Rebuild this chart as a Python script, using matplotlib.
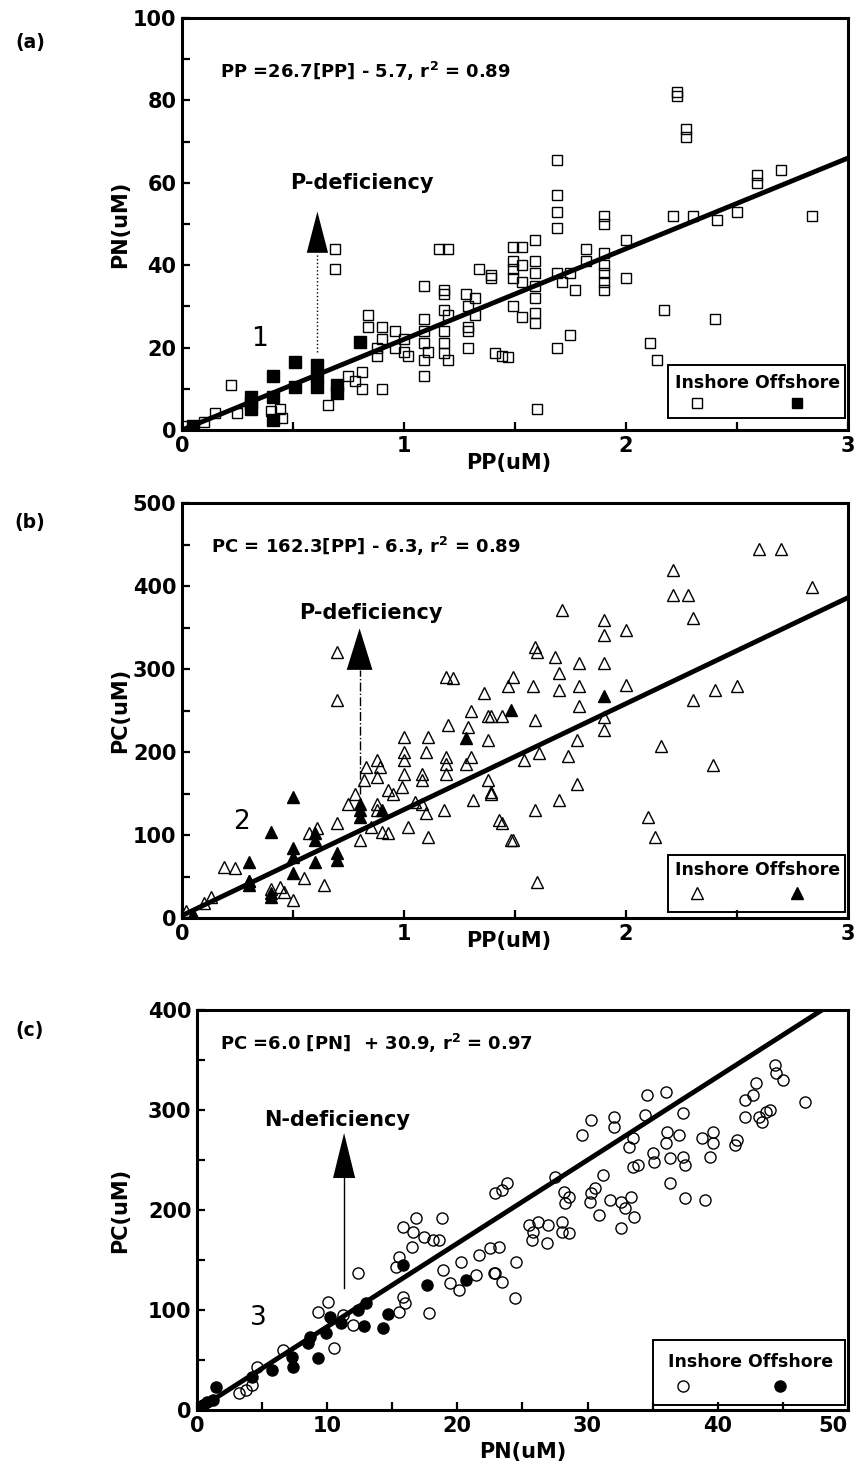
import matplotlib
matplotlib.use("Agg")
import matplotlib.pyplot as plt
from matplotlib.patches import Rectangle
from matplotlib.ticker import MultipleLocator

# ---- panel (a): PN vs PP ----
a_in_pp = [0.02, 0.1, 0.15, 0.22, 0.25, 0.4, 0.44, 0.45, 0.66, 0.69, 0.69, 0.75, 0.78, 0.81, 0.81, 0.9,
           0.84, 0.84, 0.9, 0.96, 1.0, 1.0, 1.02, 0.9, 0.88, 0.96, 0.88,
           1.09, 1.09, 1.09, 1.09, 1.09, 1.11, 1.09, 1.16, 1.2, 1.18, 1.18, 1.18, 1.2, 1.18, 1.18, 1.18, 1.2,
           1.28, 1.32, 1.29, 1.32, 1.29, 1.29, 1.29, 1.34, 1.39, 1.39, 1.41, 1.44, 1.47,
           1.49, 1.49, 1.49, 1.49, 1.53, 1.53, 1.49, 1.53, 1.53, 1.59, 1.59, 1.59, 1.59, 1.59, 1.59, 1.59,
           1.6, 1.69, 1.69, 1.69, 1.69, 1.69, 1.71, 1.77, 1.75, 1.82, 1.82, 1.75, 1.69,
           1.9, 1.9, 1.9, 1.9, 1.9, 1.9, 1.9, 2.0, 2.0, 2.17, 2.11, 2.14,
           2.21, 2.23, 2.23, 2.27, 2.27, 2.3, 2.41, 2.5, 2.59, 2.59, 2.7, 2.84, 2.4]
a_in_pn = [1, 2, 4, 11, 4, 4.5, 5, 3, 6, 44, 39, 13, 12, 14, 10, 10,
           28, 25, 25, 24, 22, 19, 18, 22, 20, 20, 18,
           35, 27, 24, 21, 17, 19, 13, 44, 44, 34, 33, 29, 28, 24, 21, 18.7, 17,
           33, 32, 30, 28, 25, 24, 20, 39, 37.6, 36.8, 18.7, 18, 17.8,
           44.5, 41, 37, 30, 44.5, 40, 39, 36, 27.5, 46, 41, 38, 35, 32, 28.5, 26,
           5, 65.5, 57, 53, 49, 38, 36, 34, 38, 44, 41, 23, 20,
           52, 50, 43, 40, 38, 36, 34, 46, 37, 29, 21, 17,
           52, 82, 81, 73, 71, 52, 51, 53, 62, 60, 63, 52, 27]
a_off_pp = [0.31, 0.31, 0.31, 0.41, 0.41, 0.41, 0.51, 0.51, 0.61, 0.61, 0.61, 0.7, 0.7, 0.8, 0.05]
a_off_pn = [8, 5, 6.5, 13, 8, 2.4, 16.6, 10.5, 15.8, 10.5, 13, 11, 9, 21.4, 1]
a_fit_x = [0, 3]
a_fit_y = [0, 66]

# ---- panel (b): PC vs PP ----
b_in_pp = [0.02, 0.1, 0.13, 0.19, 0.24, 0.3, 0.4, 0.44, 0.46, 0.5, 0.55, 0.64, 0.57, 0.61, 0.7, 0.7, 0.7,
           0.75, 0.78, 0.82, 0.83, 0.89, 0.8, 0.9, 0.93, 1.02, 1.11, 0.88, 0.88, 0.93, 0.99, 1.0, 1.08,
           1.08, 1.19, 1.19, 1.19, 1.0, 1.11, 1.2, 1.19, 1.22, 1.39, 1.36, 1.47, 1.3, 1.28, 1.31, 1.39,
           1.18, 1.08, 1.1, 1.43, 1.48, 2.6, 2.7, 2.84, 2.21, 2.21, 2.28, 2.3, 1.71, 1.9, 1.9, 1.9, 2.0,
           1.59, 1.6, 1.68, 1.79, 1.79, 1.79, 1.7, 1.7, 1.58, 1.44, 1.38, 2.0, 2.3, 2.4, 2.5, 1.59, 1.9,
           1.9, 1.78, 1.74, 1.78, 1.7, 1.59, 2.16, 2.39, 2.1, 2.13, 1.44, 1.49, 1.54, 1.61, 1.39, 1.38,
           1.38, 1.6, 1.29, 1.3, 1.1, 0.95, 1.05, 0.85, 0.88, 0.88, 1.0, 1.0, 1.49]
b_in_pc = [8, 18, 25, 62, 60, 45, 35, 38, 32, 22, 48, 40, 102, 108, 114, 321, 263,
           138, 150, 166, 182, 182, 94, 104, 102, 110, 98, 130, 138, 154, 158, 174, 174,
           166, 186, 174, 194, 218, 218, 232, 291, 289, 243, 271, 279, 194, 186, 142, 152,
           130, 138, 126, 118, 94, 445, 445, 399, 419, 389, 389, 361, 371, 359, 341, 307, 347,
           327, 320, 315, 307, 279, 255, 295, 275, 279, 243, 243, 281, 263, 275, 279, 239, 242,
           227, 215, 195, 162, 142, 130, 207, 184, 122, 98, 114, 94, 190, 199, 150, 166,
           215, 43, 230, 250, 200, 150, 140, 110, 170, 190, 190, 200, 291]
b_off_pp = [0.3, 0.3, 0.3, 0.4, 0.4, 0.4, 0.5, 0.5, 0.5, 0.5, 0.6, 0.6, 0.6, 0.7, 0.7,
            0.8, 0.8, 0.8, 0.9, 1.28, 1.48, 1.9, 0.05]
b_off_pc = [68, 40, 45, 104, 25, 30, 146, 84, 74, 54, 102, 94, 68, 78, 70,
            130, 122, 138, 130, 217, 251, 267, 5]
b_fit_x = [0, 3]
b_fit_y = [3, 386]

# ---- panel (c): PC vs PN ----
c_in_pn = [3.2, 3.8, 4.2, 4.6, 6.6, 10.5, 9.3, 10.1, 12.4, 11.2, 12.0, 15.3, 15.5, 15.8, 16.8, 16.6,
           17.4, 16.5, 18.1, 18.8, 18.6, 17.8, 15.5, 16.0, 15.8, 18.9, 19.4, 20.1, 20.3, 21.7, 22.5,
           21.4, 22.8, 22.9, 23.4, 23.8, 27.5, 28.2, 28.6, 28.3, 30.3, 30.6, 30.2, 30.9, 31.7, 32.6,
           33.3, 33.6, 32.6, 32.9, 31.2, 25.5, 26.2, 27.0, 28.0, 28.6, 28.0, 26.9, 25.7, 25.8, 24.4,
           24.5, 22.9, 23.4, 23.2, 29.6, 30.3, 32.0, 32.0, 34.6, 36.0, 37.3, 34.4, 33.2, 33.5, 33.9,
           33.5, 35.0, 35.1, 36.1, 36.0, 36.3, 37.0, 37.3, 37.5, 36.3, 37.5, 39.0, 38.8, 39.6, 39.6,
           39.4, 41.3, 41.5, 42.1, 42.7, 42.9, 42.1, 43.2, 43.7, 44.0, 43.4, 44.4, 44.5, 45.0, 46.7]
c_in_pc = [17, 20, 25, 43, 60, 62, 98, 108, 137, 95, 85, 143, 153, 183, 192, 178,
           173, 163, 170, 192, 170, 97, 98, 107, 113, 140, 127, 120, 148, 155, 162,
           135, 137, 217, 220, 227, 233, 218, 213, 207, 217, 222, 208, 195, 210, 208,
           213, 193, 182, 202, 235, 185, 188, 185, 188, 177, 178, 167, 170, 178, 112,
           148, 137, 128, 163, 275, 290, 293, 283, 315, 318, 297, 295, 263, 272, 245,
           243, 257, 248, 278, 267, 252, 275, 253, 245, 227, 212, 210, 272, 278, 267,
           253, 265, 270, 310, 315, 327, 293, 293, 298, 300, 288, 345, 337, 330, 308]
c_off_pn = [0.5, 0.8, 1.2, 1.5, 4.2, 5.8, 7.4, 7.3, 8.5, 8.7, 9.3, 9.9, 10.2, 11.1, 12.4, 13.0,
            12.8, 14.3, 14.7, 15.8, 17.7, 20.7]
c_off_pc = [5, 8, 10, 23, 33, 40, 43, 53, 67, 73, 52, 77, 93, 87, 100, 107,
            84, 82, 96, 145, 125, 130]
c_fit_x = [0, 48]
c_fit_y = [0, 400]
c_xticks = [0, 10, 20, 30, 40, 50]
c_xticklabels = ["0", "10", "20", "30", "40", "50"]

plt.rcParams['font.family'] = ['DejaVu Sans']
plt.rcParams['font.weight'] = 'bold'
plt.rcParams['axes.labelweight'] = 'bold'

fig = plt.figure(figsize=(8.56, 14.76), dpi=100)
ax_a = fig.add_axes([0.2126, 0.7087, 0.778, 0.2791])
ax_b = fig.add_axes([0.2126, 0.3780, 0.778, 0.2812])
ax_c = fig.add_axes([0.2301, 0.0447, 0.7605, 0.2710])


def style_axis(ax, xmax, ymax, xmaj, xmin, ymaj, ymin):
    ax.set_xlim(0, xmax)
    ax.set_ylim(0, ymax)
    ax.xaxis.set_major_locator(MultipleLocator(xmaj))
    ax.xaxis.set_minor_locator(MultipleLocator(xmin))
    ax.yaxis.set_major_locator(MultipleLocator(ymaj))
    ax.yaxis.set_minor_locator(MultipleLocator(ymin))
    ax.tick_params(which='both', direction='in', width=1.6, length=6, labelsize=15, pad=4)
    for s in ax.spines.values():
        s.set_linewidth(2.2)


def legend_box(ax, x0, y0, y1, ty, my, xi, xo, marker, msize):
    ax.add_patch(Rectangle((x0, y0), 1 - x0 - 0.004, y1 - y0, transform=ax.transAxes,
                           fill=False, lw=1.4, zorder=5))
    ax.text((x0 + 1) / 2, ty, "Inshore Offshore", transform=ax.transAxes, ha='center',
            va='center', fontsize=12.5, zorder=6)
    ax.plot([xi], [my], marker=marker, ms=msize, mfc='white', mec='black', mew=1.0,
            transform=ax.transAxes, zorder=6)
    ax.plot([xo], [my], marker=marker, ms=msize, mfc='black', mec='black',
            transform=ax.transAxes, zorder=6)


def arrow(ax, x, y_low, base, tip, dx, ls, text, tx, ty):
    ax.plot([x, x], [y_low, base], color='black', lw=1.0, ls=ls)
    ax.fill([x - dx, x + dx, x], [base, base, tip], color='black', lw=0)
    ax.text(tx, ty, text, ha='center', va='center', fontsize=15)


# (a)
ax = ax_a
ax.plot(a_in_pp, a_in_pn, 's', ms=7, mfc='none', mec='black', mew=1.0)
ax.plot(a_off_pp, a_off_pn, 's', ms=8, mfc='black', mec='black')
ax.plot(a_fit_x, a_fit_y, color='black', lw=3.5)
style_axis(ax, 3, 100, 1, 0.5, 20, 10)
ax.set_xlabel("PP(uM)", fontsize=15)
ax.set_ylabel("PN(uM)", fontsize=15)
ax.xaxis.set_label_coords(0.49, -0.055)
ax.yaxis.set_label_coords(-0.078, 0.5)
ax.text(0.17, 87, "PP =26.7[PP] - 5.7, r$^{\\mathbf{2}}$ = 0.89", fontsize=13, va='center')
arrow(ax, 0.61, 19, 43, 53, 0.048, ':', "P-deficiency", 0.81, 60)
ax.text(0.35, 22, "1", fontsize=19, fontweight='normal', ha='center', va='center')
legend_box(ax, 0.73, 0.03, 0.158, 0.114, 0.066, 0.773, 0.923, 's', 7)

# (b)
ax = ax_b
ax.plot(b_in_pp, b_in_pc, '^', ms=8, mfc='none', mec='black', mew=1.0)
ax.plot(b_off_pp, b_off_pc, '^', ms=8, mfc='black', mec='black')
ax.plot(b_fit_x, b_fit_y, color='black', lw=3.5)
style_axis(ax, 3, 500, 1, 0.5, 100, 50)
ax.set_xlabel("PP(uM)", fontsize=15)
ax.set_ylabel("PC(uM)", fontsize=15)
ax.xaxis.set_label_coords(0.49, -0.03)
ax.yaxis.set_label_coords(-0.078, 0.5)
ax.text(0.13, 448, "PC = 162.3[PP] - 6.3, r$^{\\mathbf{2}}$ = 0.89", fontsize=13, va='center')
arrow(ax, 0.80, 150, 299, 349, 0.058, '-.', "P-deficiency", 0.85, 368)
ax.text(0.27, 116, "2", fontsize=19, fontweight='normal', ha='center', va='center')
legend_box(ax, 0.73, 0.015, 0.152, 0.116, 0.06, 0.773, 0.923, '^', 8)

# (c)
ax = ax_c
ax.plot(c_in_pn, c_in_pc, 'o', ms=8, mfc='none', mec='black', mew=1.0)
ax.plot(c_off_pn, c_off_pc, 'o', ms=8, mfc='black', mec='black')
ax.plot(c_fit_x, c_fit_y, color='black', lw=3.5)
style_axis(ax, 50, 400, 10, 5, 100, 50)
ax.set_xticks(c_xticks)
ax.set_xticklabels(c_xticklabels)
ax.get_xticklabels()[-1].set_horizontalalignment('right')
ax.set_xlabel("PN(uM)", fontsize=15)
ax.set_ylabel("PC(uM)", fontsize=15)
ax.xaxis.set_label_coords(0.5, -0.08)
ax.yaxis.set_label_coords(-0.103, 0.5)
ax.text(1.8, 367, "PC =6.0 [PN]  + 30.9, r$^{\\mathbf{2}}$ = 0.97", fontsize=13, va='center')
arrow(ax, 11.3, 122, 232, 277, 0.85, '-', "N-deficiency", 10.8, 290)
ax.text(4.7, 92, "3", fontsize=19, fontweight='normal', ha='center', va='center')
legend_box(ax, 0.70, 0.0125, 0.175, 0.12, 0.06, 0.746, 0.895, 'o', 8)

fig.text(0.035, 0.9715, "(a)", fontsize=13.5, va='center', ha='center')
fig.text(0.035, 0.6463, "(b)", fontsize=13.5, va='center', ha='center')
fig.text(0.035, 0.3020, "(c)", fontsize=13.5, va='center', ha='center')

fig.savefig("out.png", dpi=100)
